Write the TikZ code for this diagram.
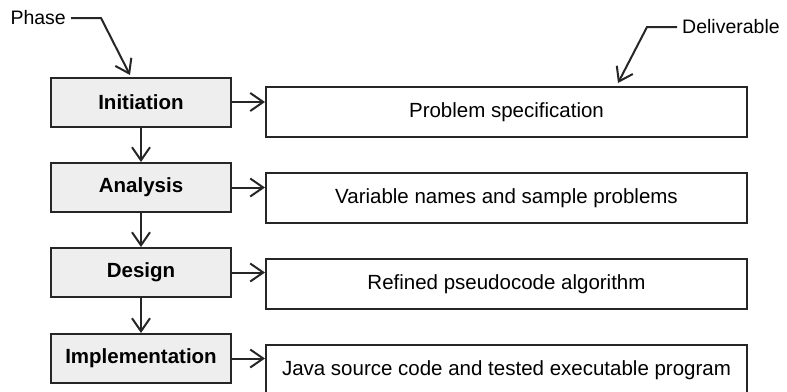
\documentclass[tikz,border=0pt]{standalone}
\usepackage{fontspec}
\setmainfont{Liberation Sans}
\usetikzlibrary{arrows.meta}
\definecolor{ink}{HTML}{262626}
\definecolor{phasefill}{HTML}{EEEEEE}
\begin{document}
\begin{tikzpicture}[x=1pt,y=-1pt,
  phasebox/.style={draw=ink, line width=2pt, fill=phasefill, minimum width=180pt, minimum height=49pt, inner sep=0pt, font=\bfseries\fontsize{20.5}{24}\selectfont},
  delbox/.style={draw=ink, line width=2pt, fill=white, minimum width=481pt, minimum height=50pt, inner sep=0pt, font=\fontsize{20.5}{24}\selectfont},
  lbl/.style={inner sep=0pt, font=\fontsize{19.5}{23}\selectfont},
  arr/.style={draw=ink, line width=2pt, -{Straight Barb[length=13pt,width=18pt,line width=2pt]}},
  callout/.style={draw=ink, line width=2pt, line join=miter, -{Straight Barb[length=13pt,width=18pt,line width=2pt]}}
]
\useasboundingbox (0,0) rectangle (787,391);

\node[phasebox] (p1) at (141,102) {Initiation};
\node[phasebox] (p2) at (141,187.5) {Analysis};
\node[phasebox] (p3) at (141,272.5) {Design};
\node[phasebox] (p4) at (141,358.5) {Implementation};

\node[delbox] (d1) at (506.5,112) {Problem specification};
\node[delbox] (d2) at (506.5,198) {Variable names and sample problems};
\node[delbox] (d3) at (506.5,284) {Refined pseudocode algorithm};
\node[delbox] (d4) at (506.5,370) {Java source code and tested executable program};

\foreach \i in {1,2,3,4}{
  \draw[arr] (p\i.east) -- (p\i.east -| d\i.west);
}
\draw[arr] (p1.south) -- (p2.north);
\draw[arr] (p2.south) -- (p3.north);
\draw[arr] (p3.south) -- (p4.north);

\node[lbl, anchor=east] (phase) at (66,18) {Phase};
\coordinate (pc) at (101,18);
\draw[callout] (phase.east) ++(5,0) -- (pc) -- (130,75);

\node[lbl, anchor=west] (deliv) at (682,27) {Deliverable};
\coordinate (dc) at (647,27);
\draw[callout] (deliv.west) ++(-5,0) -- (dc) -- (618,83);
\end{tikzpicture}
\end{document}
